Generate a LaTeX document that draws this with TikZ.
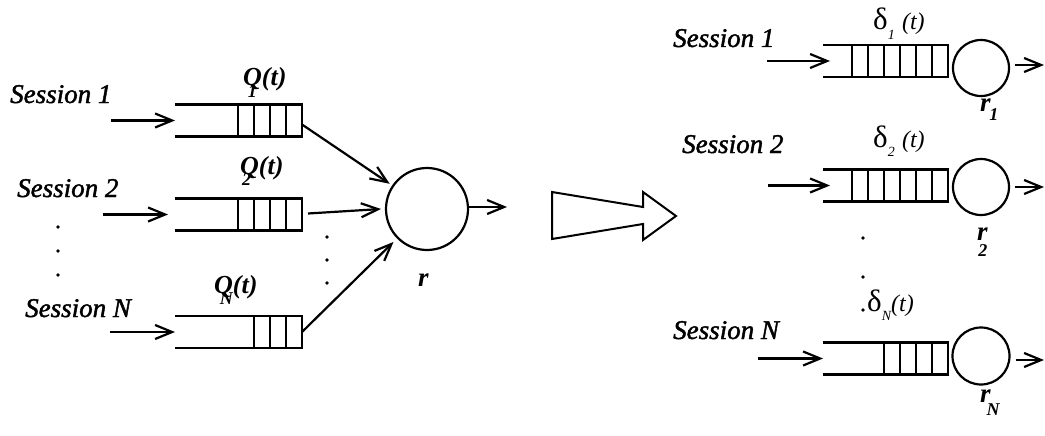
\documentclass[tikz,border=0pt]{standalone}
\usepackage{fontspec}
\setmainfont{Liberation Serif}
\newfontfamily\sessfont[ItalicFeatures={FakeBold=1.6}]{Liberation Serif}
\usetikzlibrary{arrows.meta,calc}
\newcommand\drawqueue[2]{%
  \draw[lw] (#1.north west) -- (#1.north east) -- (#1.south east) -- (#1.south west);
  \foreach \k in {1,...,#2} \draw[cellw] ($(#1.north east)+(-\k*16,0)$) -- ($(#1.south east)+(-\k*16,0)$);
}
\begin{document}
\begin{tikzpicture}[x=1pt,y=-1pt,
  lw/.style={line width=2.2pt},
  cellw/.style={line width=1.8pt},
  arr/.style={lw,-{Straight Barb[length=17pt,width=14pt]}},
  qbox/.style={minimum width=#1, minimum height=32pt, inner sep=0pt, outer sep=0pt},
  srv/.style={circle,draw,lw,minimum size=#1,inner sep=0pt,outer sep=0pt},
  sess/.style={anchor=base west,inner sep=0pt,font=\fontsize{27}{30}\sessfont\itshape},
  qlab/.style={anchor=base west,inner sep=0pt,font=\fontsize{26}{28}\selectfont\bfseries\itshape},
  dlab/.style={anchor=base west,inner sep=0pt,font=\fontsize{24}{27}\selectfont},
  rlab/.style={anchor=base west,inner sep=0pt,font=\fontsize{27}{28}\selectfont\bfseries\itshape},
  dot/.style={circle,fill,inner sep=0pt,minimum size=3.8pt}
]
\useasboundingbox (0,0) rectangle (1045,436);

% ---------------- left side ----------------
\node[sess] (ls1) at (10,103) {Session 1};
\node[sess] (ls2) at (17,197) {Session 2};
\node[sess] (lsN) at (25,317) {Session N};

\node[qbox=127pt] (q1) at (238.5,120.5) {};
\node[qbox=127pt] (q2) at (238.5,214.5) {};
\node[qbox=127pt] (qN) at (238.5,332) {};
\drawqueue{q1}{4}
\drawqueue{q2}{4}
\drawqueue{qN}{3}

\coordinate (in1) at (111,120.5);
\coordinate (in2) at (103,214.5);
\coordinate (inN) at (110,332);
\draw[arr] (in1) -- (q1.west);
\draw[arr] (in2) -- ($(q2.west)+(-7,0)$);
\draw[arr] (inN) -- (qN.west);

\node[qlab] (lq1) at (243,86) {Q\llap{\raisebox{-0.45em}{\fontsize{18}{18}\selectfont 1}\hspace{0.2em}}(t)};
\node[qlab] (lq2) at (240,174) {Q\llap{\raisebox{-0.45em}{\fontsize{18}{18}\selectfont 2}\hspace{0.3em}}(t)};
\node[qlab] (lqN) at (214,293) {Q\llap{\raisebox{-0.45em}{\fontsize{18}{18}\selectfont N}\hspace{0.0em}}(t)};

\node[srv=82pt] (r) at (427,209) {};
\node[rlab] (lr) at (418,286) {r};

\draw[arr,shorten >=4pt] ($(q1.east)+(0,4)$) -- (r);
\draw[arr] ($(q2.east)+(6,-1)$) -- ($(r.west)+(-5,0)$);
\draw[arr,shorten >=6pt] (qN.east) -- (r);
\coordinate (rout) at (507,207);
\draw[arr] ($(r.east)+(0,-2)$) -- (rout);

\node[dot] (ld1) at (58,227) {};
\node[dot] (ld2) at (58,251) {};
\node[dot] (ld3) at (58,275) {};
\node[dot] (md1) at (327,237) {};
\node[dot] (md2) at (327,260) {};
\node[dot] (md3) at (327,283) {};

% ---------------- big arrow ----------------
\draw[line width=2pt,line join=miter] (552,192) -- (643,207) -- (643,192) -- (676,216) -- (643,240) -- (643,224) -- (552,239) -- cycle;

% ---------------- right side ----------------
\node[sess] (rs1) at (673,47) {Session 1};
\node[sess] (rs2) at (682,153) {Session 2};
\node[sess] (rsN) at (673,339) {Session N};

\node[qbox=125pt] (p1) at (885.5,61) {};
\node[qbox=125pt] (p2) at (885.5,185.5) {};
\node[qbox=125pt] (pN) at (885.5,358.5) {};
\drawqueue{p1}{6}
\drawqueue{p2}{6}
\drawqueue{pN}{4}

\coordinate (rin1) at (767,61);
\coordinate (rin2) at (768,185.5);
\coordinate (rinN) at (758,358.5);
\draw[arr] (rin1) -- ($(p1.west)+(7,0)$);
\draw[arr] (rin2) -- ($(p2.west)+(7,0)$);
\draw[arr] (rinN) -- (pN.west);

\node[srv=56pt] (s1) at (981,68) {};
\node[srv=56pt] (s2) at (981,187) {};
\node[srv=57pt] (sN) at (981,356) {};

\coordinate (o1) at (1044,65);
\coordinate (o2) at (1044,187);
\coordinate (oN) at (1044,360);
\draw[arr] ($(s1.east)+(6,-3)$) -- (o1);
\draw[arr] ($(s2.east)+(6,0)$) -- (o2);
\draw[arr] ($(sN.east)+(6,4)$) -- (oN);

\node[dlab] (d1) at (873,30) {{\fontsize{31}{31}\selectfont δ}\raisebox{-0.4em}{\fontsize{14}{14}\selectfont\itshape 1}\hspace{0.3em}\textit{(t)}};
\node[dlab] (d2) at (873,147) {{\fontsize{31}{31}\selectfont δ}\raisebox{-0.4em}{\fontsize{14}{14}\selectfont\itshape 2}\hspace{0.3em}\textit{(t)}};
\node[dlab] (dN) at (867,311) {{\fontsize{31}{31}\selectfont δ}\raisebox{-0.4em}{\fontsize{14}{14}\selectfont\itshape N}\textit{(t)}};

\node[rlab] (r1) at (980,111) {r\kern-0.05em\raisebox{-0.35em}{\fontsize{18}{18}\selectfont 1}};
\node[rlab] (r2) at (977,240) {r\kern-0.35em\raisebox{-0.6em}{\fontsize{18}{18}\selectfont 2}};
\node[rlab] (rN) at (980,402) {r\kern-0.15em\raisebox{-0.5em}{\fontsize{18}{18}\selectfont N}};

\node[dot] (rd1) at (863,238) {};
\node[dot] (rd2) at (863,277) {};
\node[dot] (rd3) at (863,310) {};
\end{tikzpicture}
\end{document}
